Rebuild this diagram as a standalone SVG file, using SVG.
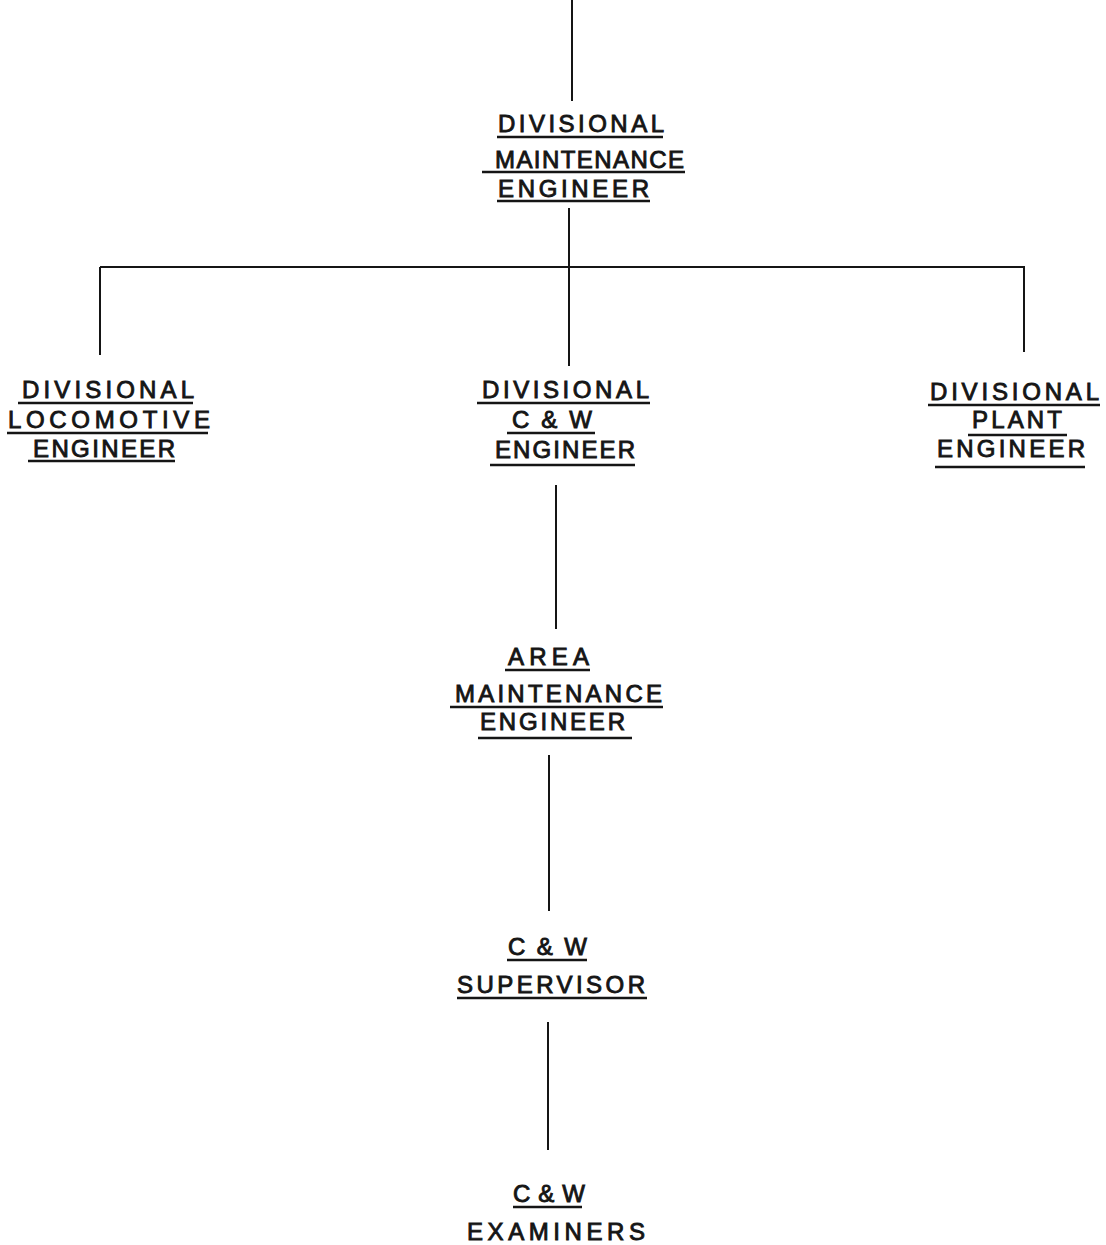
<svg xmlns="http://www.w3.org/2000/svg" width="1106" height="1245" viewBox="0 0 1106 1245">
<style>
.t{font-family:"Liberation Sans","DejaVu Sans",sans-serif;font-size:24px;fill:#151515;stroke:#151515;stroke-width:0.9px}
.u{stroke:#151515;stroke-width:2.4;fill:none}
.c{stroke:#151515;stroke-width:2;fill:none}
</style>
<rect width="1106" height="1245" fill="#ffffff"/>
<g id="connectors">
<line class="c" x1="572" y1="0" x2="572" y2="101"/>
<line class="c" x1="569" y1="208" x2="569" y2="366"/>
<line class="c" x1="100" y1="267" x2="1025" y2="267"/>
<line class="c" x1="100" y1="267" x2="100" y2="355"/>
<line class="c" x1="1024" y1="267" x2="1024" y2="352"/>
<line class="c" x1="556" y1="485" x2="556" y2="629"/>
<line class="c" x1="549" y1="755" x2="549" y2="911"/>
<line class="c" x1="548" y1="1022" x2="548" y2="1150"/>
</g>
<g id="dme">
<text class="t" x="498" y="132" textLength="166" lengthAdjust="spacing">DIVISIONAL</text>
<line class="u" x1="497" y1="137" x2="663" y2="137"/>
<text class="t" x="495" y="168" textLength="189" lengthAdjust="spacing">MAINTENANCE</text>
<line class="u" x1="482" y1="172" x2="685" y2="172"/>
<text class="t" x="498" y="197" textLength="151" lengthAdjust="spacing">ENGINEER</text>
<line class="u" x1="497" y1="201" x2="650" y2="201"/>
</g>
<g id="dle">
<text class="t" x="22" y="398" textLength="172" lengthAdjust="spacing">DIVISIONAL</text>
<line class="u" x1="18" y1="403" x2="193" y2="403"/>
<text class="t" x="8" y="428" textLength="202" lengthAdjust="spacing">LOCOMOTIVE</text>
<line class="u" x1="7" y1="433" x2="208" y2="433"/>
<text class="t" x="33" y="457" textLength="142" lengthAdjust="spacing">ENGINEER</text>
<line class="u" x1="28" y1="461" x2="175" y2="461"/>
</g>
<g id="dcwe">
<text class="t" x="482" y="398" textLength="167" lengthAdjust="spacing">DIVISIONAL</text>
<line class="u" x1="477" y1="403" x2="650" y2="403"/>
<text class="t" x="512" y="428" textLength="80" lengthAdjust="spacing">C &amp; W</text>
<line class="u" x1="507" y1="433" x2="595" y2="433"/>
<text class="t" x="495" y="458" textLength="140" lengthAdjust="spacing">ENGINEER</text>
<line class="u" x1="490" y1="465" x2="635" y2="465"/>
</g>
<g id="dpe">
<text class="t" x="930" y="400" textLength="169" lengthAdjust="spacing">DIVISIONAL</text>
<line class="u" x1="928" y1="405" x2="1100" y2="405"/>
<text class="t" x="972" y="428" textLength="90" lengthAdjust="spacing">PLANT</text>
<line class="u" x1="968" y1="435" x2="1067" y2="435"/>
<text class="t" x="937" y="457" textLength="148" lengthAdjust="spacing">ENGINEER</text>
<line class="u" x1="935" y1="467" x2="1085" y2="467"/>
</g>
<g id="ame">
<text class="t" x="508" y="665" textLength="81" lengthAdjust="spacing">AREA</text>
<line class="u" x1="505" y1="670" x2="590" y2="670"/>
<text class="t" x="455" y="702" textLength="207" lengthAdjust="spacing">MAINTENANCE</text>
<line class="u" x1="450" y1="707" x2="663" y2="707"/>
<text class="t" x="480" y="730" textLength="145" lengthAdjust="spacing">ENGINEER</text>
<line class="u" x1="478" y1="738" x2="632" y2="738"/>
</g>
<g id="cws">
<text class="t" x="508" y="955" textLength="79" lengthAdjust="spacing">C &amp; W</text>
<line class="u" x1="507" y1="960" x2="587" y2="960"/>
<text class="t" x="457" y="993" textLength="188" lengthAdjust="spacing">SUPERVISOR</text>
<line class="u" x1="457" y1="998" x2="647" y2="998"/>
</g>
<g id="cwe">
<text class="t" x="513" y="1202" textLength="72" lengthAdjust="spacing">C &amp; W</text>
<line class="u" x1="513" y1="1207" x2="582" y2="1207"/>
<text class="t" x="467" y="1240" textLength="178" lengthAdjust="spacing">EXAMINERS</text>
</g>
</svg>
